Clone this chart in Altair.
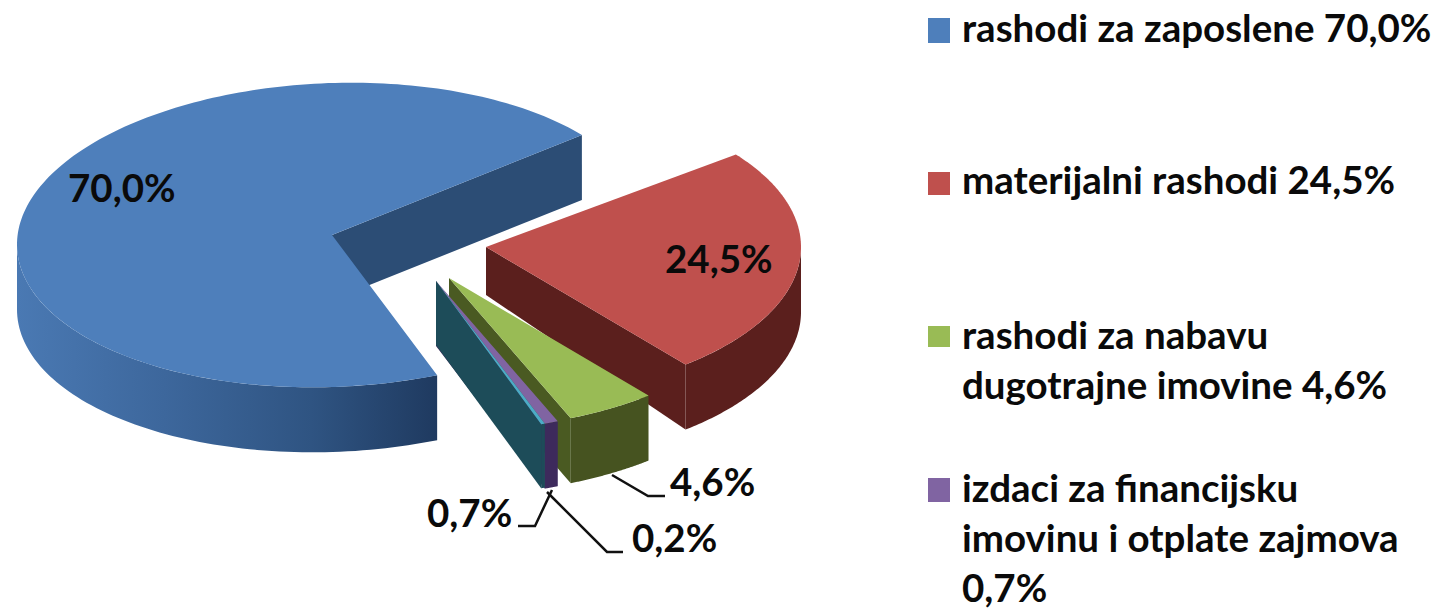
import altair as alt
import numpy as np
import pandas as pd

# values
shares = [70.0, 24.5, 4.6, 0.7, 0.2]
pie_labels = ["70,0%", "24,5%", "4,6%", "0,7%", "0,2%"]
top_colors = ["#4e7fbb", "#bf504d", "#99bb55", "#8064a2", "#4bacc6"]
radial_colors = ["#2c4d75", "#5b1f1d", "#4a5a22", "#3d2a5c", "#1d4c59"]
outer_colors = [None, "#5b1f1d", "#465320", "#3d2a5c", "#1d4c59"]

legend_items = ["rashodi za zaposlene 70,0%", "materijalni rashodi 24,5%",
                ["rashodi za nabavu", "dugotrajne imovine 4,6%"],
                ["izdaci za financijsku", "imovinu i otplate zajmova", "0,7%"]]

# layout (image pixel frame)
W, H = 1429, 603
START = 160.5
RX, RY = 315.0, 152.0
apex = [(332, 235), (486, 247), (449, 278), (436, 281), (436, 281)]
depth_apex = [65, 48, 65, 65, 64]
depth_rim = [65, 65, 65, 65, 64]
shear = [0.03, 0, 0, 0, 0]

xs = alt.Scale(domain=[8, 8 + W], range=[0, W])
ys = alt.Scale(domain=[8, 8 + H], range=[0, H])


def rim(i, th):
    a = np.radians(th)
    dx, dy = RX * np.sin(a), -RY * np.cos(a)
    return apex[i][0] + dx, apex[i][1] + dy - shear[i] * dx


def poly(px, py, fill):
    df = pd.DataFrame({"x": px, "y": py, "i": range(len(px))})
    return alt.Chart(df).mark_line(
        interpolate="linear-closed", fill=fill, stroke=None, strokeWidth=0
    ).encode(
        x=alt.X("x:Q", scale=xs, axis=None),
        y=alt.Y("y:Q", scale=ys, axis=None),
        order=alt.Order("i:Q"),
    )


blue_wall = alt.Gradient(
    gradient="linear", x1=0, x2=1, y1=0, y2=0,
    stops=[alt.GradientStop(color="#4a79b3", offset=0),
           alt.GradientStop(color="#3d679c", offset=0.35),
           alt.GradientStop(color="#2f5482", offset=0.7),
           alt.GradientStop(color="#1f3a60", offset=1)],
)

layers = []
cum = START
for i, s in enumerate(shares):
    t0, t1 = cum, cum + s * 3.6
    cum = t1
    ax, ay = apex[i]
    # radial wall on the clockwise end of the slice
    rx, ry = rim(i, t1)
    layers.append(poly([ax, rx, rx, ax], [ay, ry, ry + depth_rim[i], ay + depth_apex[i]], radial_colors[i]))
    # visible outer wall: the front half of the rim, clock angles 90..270
    shift = 360 if t0 >= 360 else 0
    lo, hi = max(t0 - shift, 90), min(t1 - shift, 270)
    if hi > lo:
        th = np.linspace(lo, hi, 80)
        ox, oy = rim(i, th)
        layers.append(poly(list(ox) + list(ox[::-1]),
                           list(oy) + list((oy + depth_rim[i])[::-1]),
                           blue_wall if i == 0 else outer_colors[i]))
    # top face
    th = np.linspace(t0, t1, 200)
    ox, oy = rim(i, th)
    layers.append(poly([ax] + list(ox), [ay] + list(oy), top_colors[i]))

# leader lines
leaders = [[(612, 475), (648, 496), (665, 496)],
           [(552, 490), (535, 526), (518, 526)],
           [(547, 492), (607, 552), (623, 552)]]
for pts in leaders:
    ldf = pd.DataFrame({"x": [p[0] for p in pts], "y": [p[1] for p in pts], "i": range(len(pts))})
    layers.append(alt.Chart(ldf).mark_line(color="#111111", strokeWidth=2.5).encode(
        x=alt.X("x:Q", scale=xs, axis=None), y=alt.Y("y:Q", scale=ys, axis=None), order="i:Q"))

FONT = "Lato"
label_pos = [(68, 202), (665, 273), (670, 496), (427, 527), (632, 552)]
ldf = pd.DataFrame({"t": pie_labels, "x": [p[0] for p in label_pos], "y": [p[1] for p in label_pos]})
layers.append(alt.Chart(ldf).mark_text(font=FONT, fontWeight="bold", fontSize=38.5, align="left",
                                       baseline="alphabetic", color="#0a0a0a").encode(
    x=alt.X("x:Q", scale=xs, axis=None), y=alt.Y("y:Q", scale=ys, axis=None), text="t:N"))

# legend
sq_y = [(18, 43), (172, 195), (326, 347), (478, 502)]
line_base = [[42], [194], [349, 399], [502, 552, 602]]
sq = pd.DataFrame({"x": 928, "x2": 950, "y": [p[0] for p in sq_y], "y2": [p[1] for p in sq_y],
                   "c": top_colors[:4]})
layers.append(alt.Chart(sq).mark_rect().encode(
    x=alt.X("x:Q", scale=xs, axis=None), x2="x2:Q",
    y=alt.Y("y:Q", scale=ys, axis=None), y2="y2:Q",
    color=alt.Color("c:N", scale=None)))
rows = []
for item, bases in zip(legend_items, line_base):
    lines = [item] if isinstance(item, str) else item
    rows += [{"t": t, "x": 962, "y": b} for t, b in zip(lines, bases)]
layers.append(alt.Chart(pd.DataFrame(rows)).mark_text(font=FONT, fontWeight="bold", fontSize=38.5, align="left",
                                                      baseline="alphabetic", color="#0a0a0a").encode(
    x=alt.X("x:Q", scale=xs, axis=None), y=alt.Y("y:Q", scale=ys, axis=None), text="t:N"))

chart = alt.layer(*layers).properties(
    width=W, height=H, padding=0, autosize=alt.AutoSizeParams(type="none"), background="white"
).configure_view(stroke=None)

chart.save("out.html", embed_options={"renderer": "svg", "actions": False})
